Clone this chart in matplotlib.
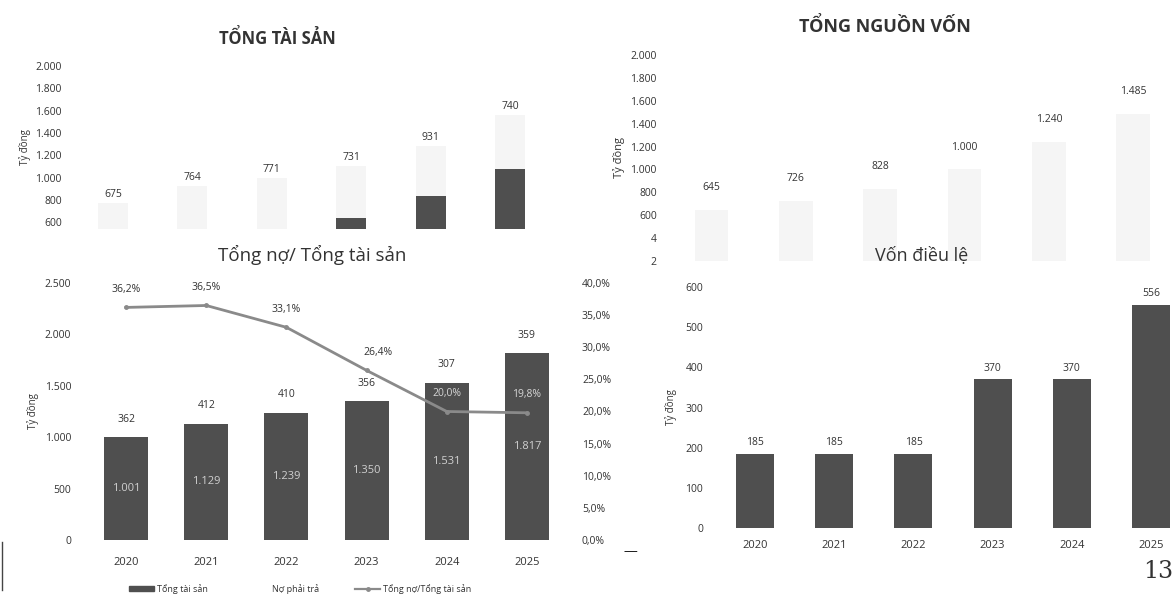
import numpy as np
import matplotlib
matplotlib.use("Agg")
import matplotlib.pyplot as plt
from matplotlib.lines import Line2D
from matplotlib.patches import Patch

plt.rcParams['font.family'] = ['Open Sans', 'DejaVu Sans']

# ---------------- data ----------------
years = ['2020', '2021', '2022', '2023', '2024', '2025']

# Top-left: TỔNG TÀI SẢN (faint bars + label text, dark bars visible for last years)
tts_faint = [773, 926, 998, 1106, 1285, 1563]
tts_labels = ['675', '764', '771', '731', '931', '740']
tts_dark = [np.nan, np.nan, np.nan, 639, 836, 1079]
tts_ticks = [600, 800, 1000, 1200, 1400, 1600, 1800, 2000]

# Top-right: TỔNG NGUỒN VỐN
tnv_values = [645, 726, 828, 1000, 1240, 1485]
tnv_ticks = [200, 400, 600, 800, 1000, 1200, 1400, 1600, 1800, 2000]
tnv_ticklabels = ['2', '4', '600', '800', '1.000', '1.200', '1.400', '1.600', '1.800', '2.000']

# Bottom-left: Tổng nợ / Tổng tài sản
total_assets = [1001, 1129, 1239, 1350, 1531, 1817]
liabilities = [362, 412, 410, 356, 307, 359]
debt_ratio = [36.2, 36.5, 33.1, 26.4, 20.0, 19.8]
bl_ticks = [0, 500, 1000, 1500, 2000, 2500]
bl_pct_ticks = [0, 5, 10, 15, 20, 25, 30, 35, 40]

# Bottom-right: Vốn điều lệ
vdl_values = [185, 185, 185, 370, 370, 556]
vdl_ticks = [0, 100, 200, 300, 400, 500, 600]

W, H = 1172, 594
fig = plt.figure(figsize=(W / 100, H / 100), dpi=100)
fig.patch.set_facecolor('white')

TXT = '#333333'
BAR = '#4f4f4f'
FAINT = '#f5f5f5'
TICK_FS = 7.5
LAB_FS = 7.5


def rect(l, t, r, b):
    return [l / W, 1 - b / H, (r - l) / W, (b - t) / H]


def vn(n):
    return f"{n:,.0f}".replace(',', '.')


def clean(ax):
    for s in ax.spines.values():
        s.set_visible(False)
    ax.tick_params(length=0, colors=TXT, labelsize=TICK_FS)
    ax.set_facecolor('none')


x = np.arange(len(years))

# ---------- top-left ----------
ax1 = fig.add_axes(rect(66, 66, 557, 229))
clean(ax1)
ax1.bar(x, tts_faint, width=0.38, color=FAINT)
ax1.bar(x, tts_dark, width=0.38, color=BAR)
for i, (v, lab) in enumerate(zip(tts_faint, tts_labels)):
    ax1.annotate(lab, (x[i], v), xytext=(0, 2), textcoords='offset points',
                 ha='center', va='bottom', fontsize=LAB_FS, color=TXT)
ax1.set_ylim(540, 2000)
ax1.set_xlim(-0.59, 5.59)
ax1.set_yticks(tts_ticks)
ax1.set_yticklabels([vn(t) for t in tts_ticks])
ax1.tick_params(axis='y', pad=3)
ax1.set_xticks([])
ax1.set_ylabel('Tỷ đồng', fontsize=7, color=TXT, labelpad=3)
fig.text(277 / W, 1 - 39 / H, 'TỔNG TÀI SẢN', ha='center', va='center',
         fontsize=12, fontweight='bold', color=TXT)

# ---------- top-right ----------
ax2 = fig.add_axes(rect(661, 55, 1172, 261))
clean(ax2)
ax2.bar(x, tnv_values, width=0.4, color=FAINT)
for i, v in enumerate(tnv_values):
    ax2.annotate(vn(v), (x[i], v), xytext=(0, 12), textcoords='offset points',
                 ha='center', va='bottom', fontsize=LAB_FS, color=TXT)
ax2.set_ylim(200, 2000)
ax2.set_xlim(-0.6, 5.46)
ax2.set_yticks(tnv_ticks)
ax2.set_yticklabels(tnv_ticklabels)
ax2.tick_params(axis='y', pad=3)
ax2.set_xticks([])
ax2.set_ylabel('Tỷ đồng', fontsize=8, color=TXT, labelpad=4)
fig.text(885 / W, 1 - 26 / H, 'TỔNG NGUỒN VỐN', ha='center', va='center',
         fontsize=13, fontweight='bold', color=TXT)

# ---------- bottom-left ----------
ax3 = fig.add_axes(rect(78, 283, 575, 540))
clean(ax3)
ax3.bar(x, total_assets, width=0.55, color=BAR, label='Tổng tài sản')
for i, (ta, lb) in enumerate(zip(total_assets, liabilities)):
    ax3.annotate(str(lb), (x[i], ta), xytext=(0, 9), textcoords='offset points',
                 ha='center', va='bottom', fontsize=LAB_FS, color=TXT)
    ax3.text(x[i], ta / 2, vn(ta), ha='center', va='center', fontsize=8,
             color='#d0d0d0')
ax3.set_ylim(0, 2500)
ax3.set_xlim(-0.6, 5.6)
ax3.set_yticks(bl_ticks)
ax3.set_yticklabels([vn(t) for t in bl_ticks])
ax3.set_xticks(x)
ax3.set_xticklabels(years, fontsize=8)
ax3.tick_params(axis='x', pad=12)
ax3.tick_params(axis='y', pad=5)
ax3.set_ylabel('Tỷ đồng', fontsize=7, color=TXT, labelpad=4)

ax3r = ax3.twinx()
clean(ax3r)
ax3r.plot(x, debt_ratio, color='#8a8a8a', lw=2, marker='o', ms=2.5,
          label='Tổng nợ/Tổng tài sản')
for i, p in enumerate(debt_ratio):
    ax3r.annotate(f"{p:.1f}%".replace('.', ','), (x[i], p),
                  xytext=(8 if i == 3 else 0, 9),
                  textcoords='offset points', ha='center', va='bottom',
                  fontsize=LAB_FS, color=TXT if i < 4 else '#d6d6d6')
ax3r.set_ylim(0, 40)
ax3r.set_yticks(bl_pct_ticks)
ax3r.set_yticklabels([f"{t:.1f}%".replace('.', ',') for t in bl_pct_ticks])
ax3r.tick_params(axis='y', pad=5, labelsize=7.5)
fig.text(312 / W, 1 - 255 / H, 'Tổng nợ/ Tổng tài sản', ha='center',
         va='center', fontsize=13.5, color=TXT)

handles = [Patch(color=BAR), Patch(color='white'),
           Line2D([0], [0], color='#8a8a8a', lw=1.6, marker='o', ms=2.5)]
fig.legend(handles, ['Tổng tài sản', 'Nợ phải trả', 'Tổng nợ/Tổng tài sản'],
           loc='center', bbox_to_anchor=(300 / W, 1 - 589 / H), ncol=3,
           frameon=False, fontsize=6.5, handlelength=2.8, handleheight=0.5,
           columnspacing=4, handletextpad=0.3, labelcolor=TXT)

# ---------- bottom-right ----------
ax4 = fig.add_axes(rect(710, 287, 1172, 528))
clean(ax4)
ax4.bar(x, vdl_values, width=0.48, color=BAR)
for i, v in enumerate(vdl_values):
    ax4.annotate(str(v), (x[i], v), xytext=(0, 4), textcoords='offset points',
                 ha='center', va='bottom', fontsize=LAB_FS, color=TXT)
ax4.set_ylim(0, 600)
ax4.set_xlim(-0.57, 5.265)
ax4.set_yticks(vdl_ticks)
ax4.set_xticks(x)
ax4.set_xticklabels(years, fontsize=8)
ax4.tick_params(axis='x', pad=9)
ax4.tick_params(axis='y', pad=5)
ax4.set_ylabel('Tỷ đồng', fontsize=7, color=TXT, labelpad=6)
fig.text(922 / W, 1 - 255 / H, 'Vốn điều lệ', ha='center', va='center',
         fontsize=13, color=TXT)

# decorations
fig.text(630 / W, 1 - 552 / H, '—', ha='center', va='center', fontsize=10,
         color='#222222')
fig.text(1158 / W, 1 - 572 / H, '13', ha='center', va='center', fontsize=17,
         family='DejaVu Serif', color='#333333')
fig.add_artist(Line2D([2 / W, 2 / W], [1 - 542 / H, 1 - 590 / H],
                      color='#444444', lw=1))

fig.savefig('out.png', dpi=100, facecolor='white')
